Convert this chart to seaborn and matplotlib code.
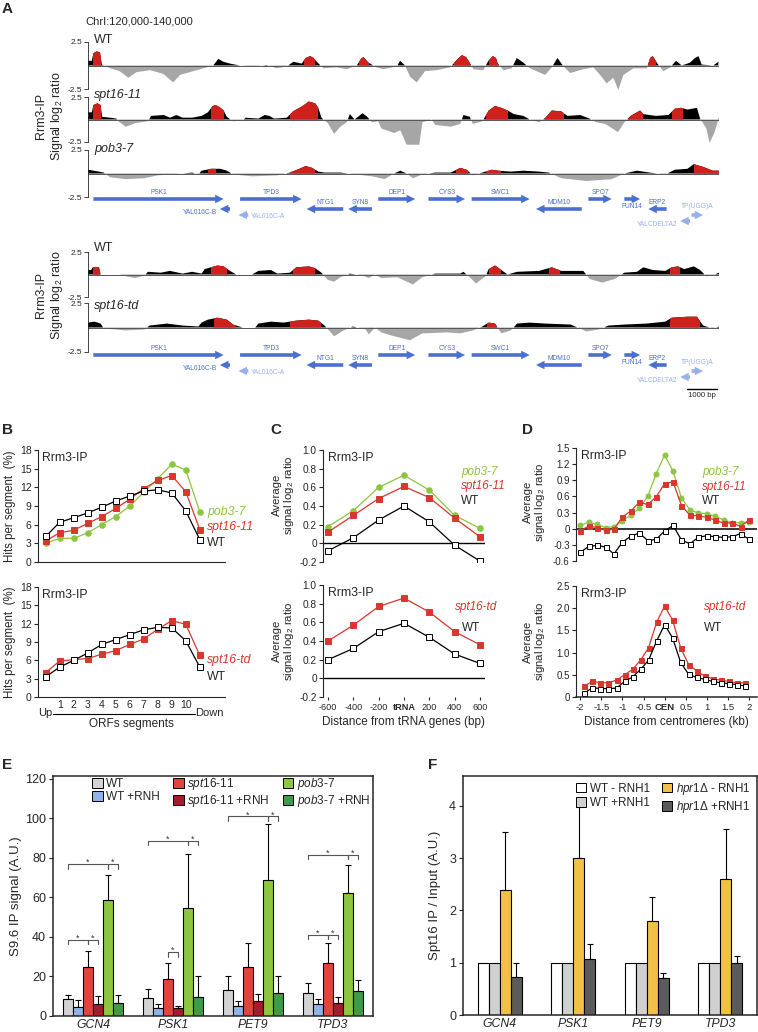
import numpy as np
import pandas as pd
import matplotlib
matplotlib.use('Agg')
import matplotlib.pyplot as plt
import matplotlib.transforms as mtransforms
from matplotlib.patches import Rectangle, Patch, FancyArrow
import seaborn as sns

sns.set_style('ticks')
plt.rcParams['font.family'] = ['Liberation Sans', 'DejaVu Sans']
plt.rcParams['mathtext.fontset'] = 'custom'
plt.rcParams['mathtext.rm'] = 'Liberation Sans'
plt.rcParams['mathtext.it'] = 'Liberation Sans:italic'
plt.rcParams['mathtext.bf'] = 'Liberation Sans:bold'
plt.rcParams['axes.linewidth'] = 0.8

# ---------------- data ----------------
chrom_label = 'ChrI:120,000-140,000'

# genome tracks: (position in kb from 120,000, log2 ratio)
wt_top = [(0.0, 0.5), (0.12, 0.5), (0.17, 1.3), (0.27, 1.5), (0.38, 1.4), (0.44, 0.1), (0.7, -0.3), (1.0, -0.6),
          (1.28, -1.3), (1.54, -0.7), (1.97, -0.5), (2.39, -0.9), (2.7, -1.8), (2.92, -1.0), (3.23, -0.7),
          (3.66, -0.3), (3.97, 0.0), (4.13, 0.7), (4.29, 0.4), (4.5, 0.2), (4.82, 0.0), (5.24, -0.1),
          (5.66, 0.05), (5.98, -0.3), (6.3, -0.1), (6.51, 0.4), (6.77, 0.2), (6.9, 0.8), (7.04, 1.0), (7.15, 0.8),
          (7.25, 0.4), (7.46, -0.3), (7.88, -0.2), (8.2, -0.4), (8.52, 0.0), (8.65, 0.7), (8.73, 0.9), (8.89, 0.3),
          (9.15, -0.2), (9.36, -0.4), (9.79, -0.1), (9.89, 0.5), (10.05, 0.0), (10.21, -1.2), (10.42, -1.8),
          (10.68, -0.6), (11.05, -0.5), (11.48, -0.2), (11.69, 0.6), (11.85, 1.1), (11.98, 0.9), (12.06, 0.5),
          (12.22, -0.4), (12.53, -0.5), (12.69, 0.5), (12.83, 1.0), (12.93, 0.8), (12.99, 0.2), (13.17, -0.5),
          (13.43, -0.3), (13.59, 0.8), (13.8, 0.3), (14.01, -0.3), (14.49, -1.0), (14.7, -0.2), (14.88, 0.8),
          (15.05, 0.0), (15.28, -0.8), (15.7, -0.4), (16.02, -0.2), (16.23, -1.0), (16.44, -1.9), (16.65, -1.3),
          (16.81, -2.6), (16.97, -1.0), (17.29, -0.3), (17.71, -0.3), (17.82, 0.8), (17.9, 1.0), (18.05, 0.2),
          (18.24, -0.6), (18.45, -0.2), (18.64, 0.5), (18.82, 0.0), (19.08, 0.3), (19.24, 0.8), (19.35, 1.0),
          (19.45, 0.1), (19.82, 0.0), (19.98, 0.4)]
wt_top_red = [(0.15, 0.42), (6.85, 7.2), (8.6, 8.9), (11.6, 12.1), (12.7, 12.98), (17.75, 18.0)]

spt16_11 = [(0.0, 0.8), (0.12, 0.8), (0.17, 1.6), (0.3, 1.8), (0.4, 1.6), (0.45, 0.3), (0.7, 0.2), (0.9, 0.1),
            (1.0, -0.3), (1.2, -0.8), (1.5, -0.4), (1.9, -0.2), (2.0, 0.4), (2.4, 0.5), (2.6, 0.2), (2.8, 0.5),
            (3.0, 0.2), (3.3, 0.2), (3.6, 0.4), (3.8, 0.8), (3.95, 1.5), (4.05, 1.6), (4.2, 1.3), (4.3, 1.0),
            (4.4, 0.3), (4.6, -0.2), (4.9, -0.1), (5.0, 0.2), (5.4, 0.1), (5.6, 0.5), (5.75, 0.4), (5.9, 0.1),
            (6.3, 0.2), (6.5, 0.9), (6.8, 1.5), (7.0, 2.0), (7.2, 1.8), (7.3, 1.3), (7.4, 0.2), (7.6, -0.4),
            (7.8, -1.6), (8.0, -0.8), (8.2, -0.3), (8.3, 0.6), (8.45, 0.0), (8.7, 0.7), (8.85, 0.3), (9.0, -0.3),
            (9.2, -0.2), (9.3, -1.0), (9.7, -1.5), (9.9, -1.2), (10.1, -2.8), (10.5, -2.8), (10.6, -0.3),
            (10.9, 0.0), (11.0, -0.6), (11.5, -0.8), (11.8, -0.5), (11.9, 0.5), (12.1, 0.3), (12.2, -0.5),
            (12.5, -0.2), (12.7, 1.0), (12.9, 1.5), (13.1, 1.3), (13.3, 1.0), (13.5, 0.6), (13.8, 0.4),
            (14.0, 0.0), (14.3, -0.3), (14.5, 0.2), (14.7, 1.0), (15.0, 0.9), (15.2, 0.4), (15.6, 0.5),
            (15.9, 0.1), (16.1, -0.3), (16.4, -0.5), (16.8, -1.4), (17.0, -0.3), (17.2, 0.4), (17.5, 1.0),
            (17.6, 0.6), (18.0, 0.4), (18.4, 0.5), (18.6, 1.2), (18.8, 1.3), (19.0, 1.1), (19.3, 1.3),
            (19.4, 0.1), (19.6, -1.0), (19.7, -2.6), (19.85, -1.5), (20.0, 0.2)]
spt16_11_red = [(0.15, 0.42), (3.9, 4.3), (6.4, 7.3), (12.6, 13.3), (14.5, 15.1), (17.1, 17.6), (18.5, 18.85)]

pob3_7 = [(0.0, 0.4), (0.35, 0.2), (0.5, 0.1), (0.7, -0.4), (1.2, -0.6), (1.8, -0.5), (2.2, -0.2), (2.6, -0.1),
          (3.0, 0.0), (3.3, 0.1), (3.5, -0.1), (3.6, 0.3), (3.9, 0.5), (4.2, 0.5), (4.4, 0.3), (4.6, -0.1),
          (5.2, -0.3), (6.0, -0.2), (6.4, 0.1), (6.7, 0.5), (6.9, 0.8), (7.1, 0.6), (7.3, 0.2), (7.5, 0.1),
          (8.0, 0.1), (8.5, -0.1), (9.0, -0.3), (9.4, -0.6), (9.7, 0.0), (9.9, 0.3), (10.1, 0.0), (10.3, -0.5),
          (10.6, -0.1), (11.0, 0.1), (11.5, 0.1), (11.8, 0.6), (12.0, 0.4), (12.2, -0.2), (12.5, 0.1),
          (12.8, 0.4), (13.0, 0.3), (13.4, 0.2), (13.8, 0.3), (14.3, 0.2), (14.6, 0.1), (15.0, -0.5),
          (15.8, -0.8), (16.6, -0.6), (17.0, 0.0), (17.4, 0.3), (17.8, 0.1), (18.3, -0.1), (18.6, 0.4),
          (19.0, 0.5), (19.2, 1.0), (19.5, 0.7), (19.8, 0.3), (20.0, 0.3)]
pob3_7_red = [(3.8, 4.05), (6.4, 7.2), (11.65, 12.05), (12.6, 13.1), (19.2, 20.0)]

wt_bottom = [(0.0, 0.5), (0.1, 0.5), (0.15, 0.8), (0.35, 0.8), (0.4, 0.0), (1.0, 0.0), (1.2, -0.2), (1.5, -0.4),
             (1.8, -0.1), (1.9, 0.3), (2.3, 0.2), (2.6, 0.4), (3.0, 0.1), (3.3, 0.3), (3.6, 0.1), (3.7, 0.6),
             (3.9, 0.8), (4.1, 1.0), (4.3, 0.9), (4.5, 0.4), (4.7, 0.0), (5.2, 0.0), (5.4, 0.4), (5.8, 0.5),
             (6.0, 0.1), (6.4, 0.2), (6.6, 0.8), (7.0, 0.9), (7.2, 0.7), (7.4, 0.2), (7.6, -0.6), (7.8, -0.8),
             (8.0, -0.3), (8.3, 0.1), (8.7, -0.1), (8.9, -0.4), (9.1, 0.0), (9.3, -0.4), (9.8, -0.3),
             (10.3, -1.1), (10.6, -0.3), (11.0, 0.1), (11.8, 0.1), (11.9, 0.3), (12.1, -0.3), (12.3, -1.0),
             (12.6, -0.2), (12.7, 0.6), (12.9, 1.0), (13.1, 0.5), (13.3, 0.0), (13.6, 0.3), (14.3, 0.4),
             (14.7, 0.8), (15.0, 0.4), (15.7, 0.4), (15.9, -0.5), (16.3, -0.9), (16.7, -0.5), (17.0, 0.2),
             (17.4, 0.3), (17.6, 0.8), (17.9, 0.5), (18.3, 0.4), (18.5, 0.8), (18.7, 0.9), (18.9, 0.6),
             (19.2, 0.9), (19.4, 0.5), (19.6, -0.2), (19.8, -0.1), (20.0, 0.2)]
wt_bottom_red = [(0.15, 0.38), (3.9, 4.4), (6.5, 7.2), (12.7, 13.1), (14.6, 14.95), (18.45, 18.75)]

spt16_td = [(0.0, 0.5), (0.2, 0.6), (0.4, 0.4), (0.5, -0.1), (1.2, -0.3), (1.8, -0.2), (1.95, 0.2), (2.5, 0.4),
            (3.0, 0.2), (3.5, 0.1), (3.6, 0.5), (3.8, 0.8), (4.1, 1.0), (4.4, 0.8), (4.6, 0.3), (4.9, 0.0),
            (5.3, 0.0), (5.4, 0.4), (5.8, 0.6), (6.2, 0.5), (6.6, 0.7), (7.0, 0.8), (7.3, 0.7), (7.5, 0.2),
            (7.8, -0.9), (8.1, -0.3), (8.4, 0.1), (8.8, -0.2), (8.9, -0.7), (9.1, 0.0), (9.3, -0.5), (9.6, -0.8),
            (10.2, -1.3), (10.6, -0.6), (11.4, -0.5), (11.8, -0.6), (12.2, -0.3), (12.5, 0.1), (12.7, 0.5),
            (12.9, 0.4), (13.1, -0.6), (13.4, -0.3), (13.6, 0.4), (14.0, 0.5), (14.5, 0.4), (15.3, 0.3),
            (15.8, -0.4), (16.2, -0.2), (16.5, 0.2), (17.0, 0.3), (17.7, 0.4), (18.3, 0.6), (18.5, 1.0),
            (19.0, 1.1), (19.3, 1.1), (19.5, 0.2), (19.8, -0.1), (20.0, 0.1)]
spt16_td_red = [(4.0, 4.7), (6.4, 7.4), (12.65, 13.0), (18.45, 19.4)]

gene_names = ['PSK1', 'TPD3', 'DEP1', 'CYS3', 'SWC1', 'SPO7', 'FUN14', 'YAL016C-B', 'NTG1', 'SYN8',
              'MDM10', 'ERP2', 'YAL016C-A', 'TP(UGG)A', 'YALCDELTA2']
gene_start = [0.17, 4.82, 9.2, 10.79, 12.16, 15.86, 17.0, 4.18, 6.93, 8.25, 14.2, 17.76, 4.77, 19.13, 18.77]
gene_end = [4.3, 6.77, 10.37, 11.95, 14.0, 16.6, 17.5, 4.5, 8.09, 9.0, 15.65, 18.34, 5.08, 19.5, 19.08]
gene_strand = ['+', '+', '+', '+', '+', '+', '+', '-', '-', '-', '-', '-', '-', '+', '-']
gene_row = [0, 0, 0, 0, 0, 0, 0, 1, 1, 1, 1, 1, 2, 2, 3]
gene_light = [False] * 12 + [True] * 3

# panel B
orf_segments = ['Up', '1', '2', '3', '4', '5', '6', '7', '8', '9', '10', 'Down']
b_top_wt = [4.1, 6.4, 7.1, 7.9, 8.8, 9.8, 10.6, 11.4, 11.6, 11.1, 8.2, 3.6]
b_top_spt16_11 = [3.4, 4.7, 5.1, 6.2, 7.3, 8.6, 10.1, 11.8, 13.1, 13.9, 11.3, 5.2]
b_top_pob3_7 = [3.0, 3.8, 3.8, 4.7, 6.0, 7.3, 9.0, 11.2, 13.4, 15.7, 14.8, 8.1]
b_bot_wt = [3.3, 4.9, 6.0, 7.2, 8.6, 9.4, 10.2, 11.0, 11.4, 11.3, 9.2, 4.9]
b_bot_spt16_td = [4.0, 5.9, 6.1, 6.3, 7.0, 7.6, 8.6, 9.5, 11.1, 12.5, 11.9, 6.8]

# panel C
trna_dist = [-600, -400, -200, 0, 200, 400, 600]
trna_labels = ['-600', '-400', '-200', 'tRNA', '200', '400', '600']
c_top_pob3_7 = [0.18, 0.35, 0.6, 0.73, 0.57, 0.3, 0.16]
c_top_spt16_11 = [0.12, 0.3, 0.48, 0.61, 0.49, 0.27, 0.07]
c_top_wt = [-0.08, 0.06, 0.25, 0.4, 0.23, -0.02, -0.19]
c_bot_spt16_td = [0.4, 0.57, 0.77, 0.86, 0.71, 0.5, 0.36]
c_bot_wt = [0.2, 0.32, 0.5, 0.59, 0.44, 0.26, 0.16]

# panel D
cen_dist_top = [-2.0, -1.8, -1.6, -1.4, -1.2, -1.0, -0.8, -0.6, -0.4, -0.2, 0.0,
                0.2, 0.4, 0.6, 0.8, 1.0, 1.2, 1.4, 1.6, 1.8, 2.0]
d_top_pob3_7 = [0.06, 0.12, 0.08, 0.02, 0.04, 0.15, 0.25, 0.38, 0.6, 1.02, 1.37,
                1.07, 0.57, 0.35, 0.29, 0.28, 0.23, 0.16, 0.11, 0.11, 0.13]
d_top_spt16_11 = [-0.04, 0.05, 0.02, -0.03, -0.01, 0.22, 0.33, 0.49, 0.45, 0.59, 0.84,
                  0.87, 0.43, 0.25, 0.24, 0.21, 0.16, 0.1, 0.11, 0.04, 0.16]
d_top_wt = [-0.44, -0.33, -0.31, -0.34, -0.47, -0.25, -0.14, -0.08, -0.22, -0.2, -0.04,
            0.06, -0.21, -0.28, -0.16, -0.13, -0.15, -0.16, -0.15, -0.09, -0.2]
cen_dist_bot = [-1.9, -1.71, -1.52, -1.33, -1.14, -0.95, -0.76, -0.57, -0.38, -0.19, 0.0,
                0.19, 0.38, 0.57, 0.76, 0.95, 1.14, 1.33, 1.52, 1.71, 1.9]
d_bot_spt16_td = [0.25, 0.35, 0.32, 0.32, 0.38, 0.5, 0.62, 0.83, 1.11, 1.68, 2.05,
                  1.73, 1.11, 0.73, 0.59, 0.47, 0.41, 0.38, 0.35, 0.32, 0.32]
d_bot_wt = [0.09, 0.21, 0.19, 0.19, 0.2, 0.35, 0.45, 0.62, 0.83, 1.26, 1.63,
            1.33, 0.78, 0.51, 0.44, 0.4, 0.35, 0.32, 0.3, 0.28, 0.25]
cen_ticks = [-2, -1.5, -1, -0.5, 0, 0.5, 1, 1.5, 2]
cen_labels = ['-2', '-1.5', '-1', '-0.5', 'CEN', '0.5', '1', '1.5', '2']

# panel E
e_genes = ['GCN4', 'PSK1', 'PET9', 'TPD3']
e_conds = ['WT', 'WT +RNH', 'spt16-11', 'spt16-11 +RNH', 'pob3-7', 'pob3-7 +RNH']
e_mean = {'GCN4': [8.6, 4.7, 25.0, 5.9, 58.8, 6.8],
          'PSK1': [9.0, 4.2, 18.6, 4.2, 54.9, 9.6],
          'PET9': [13.2, 5.1, 24.8, 7.6, 69.0, 11.5],
          'TPD3': [11.5, 6.1, 26.7, 6.4, 62.2, 12.7]}
e_err = {'GCN4': [2.0, 3.4, 8.0, 4.2, 12.5, 3.8],
         'PSK1': [4.5, 1.7, 8.1, 1.0, 27.2, 10.7],
         'PET9': [7.1, 2.7, 12.4, 3.6, 28.0, 8.8],
         'TPD3': [5.4, 2.4, 10.1, 3.2, 14.0, 5.6]}
# (gene index, bar a, bar b, bracket height)
e_sig = [(0, 0, 2, 38.5), (0, 2, 3, 38.5), (0, 0, 4, 76.9), (0, 4, 5, 76.9),
         (1, 2, 3, 32.3), (1, 0, 4, 88.7), (1, 4, 5, 88.7),
         (2, 0, 4, 101.1), (2, 4, 5, 101.1),
         (3, 0, 2, 41.1), (3, 2, 3, 41.1), (3, 0, 4, 81.6), (3, 4, 5, 81.6)]

# panel F
f_genes = ['GCN4', 'PSK1', 'PET9', 'TPD3']
f_conds = ['WT - RNH1', 'WT +RNH1', 'hpr1 - RNH1', 'hpr1 +RNH1']
f_mean = {'GCN4': [1.0, 1.0, 2.39, 0.73], 'PSK1': [1.0, 1.0, 3.01, 1.07],
          'PET9': [1.0, 1.0, 1.79, 0.70], 'TPD3': [1.0, 1.0, 2.61, 0.99]}
f_err = {'GCN4': [0, 0, 1.11, 0.27], 'PSK1': [0, 0, 0.96, 0.29],
         'PET9': [0, 0, 0.47, 0.10], 'TPD3': [0, 0, 0.95, 0.13]}

# ---------------- style ----------------
RED = '#d8372d'
GREEN = '#8cc540'
TRACK_RED = '#d0201b'
NEG_GRAY = '#a6a6a6'
GENE_DARK = '#4a6fd1'
GENE_LIGHT = '#97b1e7'
E_COLORS = ['#d3d3d3', '#8db3e8', '#e1443a', '#a51c2c', '#8dc63f', '#3f9a4b']
F_COLORS = ['#ffffff', '#d0d0d0', '#f1c045', '#5b5b5b']

W, H = 758, 1032
fig = plt.figure(figsize=(W / 100, H / 100), dpi=100)


def box(x0, y0, x1, y1):
    return fig.add_axes([x0 / W, 1 - y1 / H, (x1 - x0) / W, (y1 - y0) / H])


def ftext(x, y, s, **kw):
    kw.setdefault('va', 'center')
    kw.setdefault('ha', 'left')
    fig.text(x / W, 1 - y / H, s, **kw)


# ---------------- panel A ----------------
def draw_track(y0, y1, pts, red_spans):
    ax = box(88, y0, 719, y1)
    kb = np.array([p[0] for p in pts])
    v = np.array([p[1] for p in pts])
    pos = ax.fill_between(kb, v, 0, where=v >= 0, interpolate=True, color='black', lw=0)
    neg = ax.fill_between(kb, v, 0, where=v <= 0, interpolate=True, color=NEG_GRAY, lw=0)
    pos.set_clip_on(False)
    neg.set_clip_on(False)
    for a, b in red_spans:
        poly = ax.fill_between(kb, v, 0, where=v >= 0, interpolate=True, color=TRACK_RED, lw=0)
        poly.set_clip_path(Rectangle((a, 0), b - a, 5, transform=ax.transData))
    ax.axhline(0, color='#555555', lw=0.7)
    ax.set_xlim(0, 20)
    ax.set_ylim(-2.5, 2.5)
    ax.set_yticks([-2.5, 2.5])
    ax.set_yticklabels(['-2.5', '2.5'])
    ax.tick_params(axis='y', labelsize=6, length=3, width=0.6, pad=1)
    ax.set_xticks([])
    for s in ['top', 'right', 'bottom']:
        ax.spines[s].set_visible(False)
    ax.spines['left'].set_linewidth(0.6)
    ax.patch.set_alpha(0)
    return ax


ROW_Y = [11, 21, 27, 33]


def draw_genes(y_top, scalebar=False):
    ax = box(88, y_top, 719, y_top + 60)
    ax.set_xlim(0, 20)
    ax.set_ylim(60, 0)
    ax.axis('off')
    for name, s, e, st, row, light in zip(gene_names, gene_start, gene_end, gene_strand, gene_row, gene_light):
        c = GENE_LIGHT if light else GENE_DARK
        y = ROW_Y[row]
        length = e - s
        hl = min(0.27, length)
        x, dx = (s, length) if st == '+' else (e, -length)
        ax.add_patch(FancyArrow(x, y, dx, 0, width=3.6, head_width=8.5, head_length=hl,
                                length_includes_head=True, color=c, lw=0))
        mid = (s + e) / 2
        if name == 'FUN14':
            ax.text(mid, y + 8, name, color=c, fontsize=4.8, ha='center', va='center')
        elif name in ('YAL016C-B', 'YALCDELTA2'):
            ax.text(s - 0.08, y + 3, name, color=c, fontsize=4.8, ha='right', va='center')
        elif name == 'YAL016C-A':
            ax.text(e + 0.08, y + 1, name, color=c, fontsize=4.8, ha='left', va='center')
        elif name == 'TP(UGG)A':
            ax.text(mid, y - 8, name, color=c, fontsize=4.8, ha='center', va='center')
        else:
            ax.text(mid, y - 6.5, name, color=c, fontsize=4.8, ha='center', va='center')
    if scalebar:
        ax.plot([19.0, 19.95], [45, 45], color='black', lw=1.0, clip_on=False)
        ax.text(19.47, 51.5, '1000 bp', fontsize=5.6, ha='center', va='center')


ftext(2, 9, 'A', fontsize=11, fontweight='bold')
ftext(85, 22, chrom_label, fontsize=8)
draw_track(42, 89, wt_top, wt_top_red)
draw_track(97, 142, spt16_11, spt16_11_red)
draw_track(150, 197, pob3_7, pob3_7_red)
draw_genes(188)
ftext(94, 40, 'WT', fontsize=9)
ftext(94, 95, 'spt16-11', fontsize=9, fontstyle='italic')
ftext(94, 149, 'pob3-7', fontsize=9, fontstyle='italic')
ftext(50, 116, 'Rrm3-IP\nSignal log$_2$ ratio', fontsize=9, rotation=90, ha='center',
      multialignment='center')

draw_track(252, 297, wt_bottom, wt_bottom_red)
draw_track(303, 352, spt16_td, spt16_td_red)
draw_genes(344, scalebar=True)
ftext(94, 248, 'WT', fontsize=9)
ftext(94, 306, 'spt16-td', fontsize=9, fontstyle='italic')
ftext(50, 295, 'Rrm3-IP\nSignal log$_2$ ratio', fontsize=9, rotation=90, ha='center',
      multialignment='center')


# ---------------- line panels ----------------
STY = {
    'wt': dict(color='black', marker='s', markerfacecolor='white', markeredgecolor='black'),
    'red': dict(color=RED, marker='s', markerfacecolor=RED, markeredgecolor=RED),
    'green': dict(color=GREEN, marker='o', markerfacecolor=GREEN, markeredgecolor=GREEN),
}


def series(ax, x, y, kind, ms=4):
    sns.lineplot(x=x, y=y, ax=ax, estimator=None, sort=False, lw=0.9, markersize=ms,
                 markeredgewidth=0.7, **STY[kind])


def style_left(ax, labelsize=7.5):
    for s in ['top', 'right']:
        ax.spines[s].set_visible(False)
    ax.tick_params(axis='y', labelsize=labelsize, length=3, width=0.8, pad=1.5)
    ax.patch.set_alpha(0)


def fmt(v):
    return '0' if abs(v) < 1e-9 else f'{v:.1f}'


# panel B
ftext(2, 430, 'B', fontsize=11, fontweight='bold')
bx = list(range(len(orf_segments)))
for y0, y1, data in [(450, 562, [('green', b_top_pob3_7), ('red', b_top_spt16_11), ('wt', b_top_wt)]),
                     (587, 697, [('red', b_bot_spt16_td), ('wt', b_bot_wt)])]:
    ax = box(38, y0, 225, y1)
    for kind, vals in data:
        series(ax, bx, vals, kind, ms=4)
    ax.set_xlim(-0.55, 12.8)
    ax.set_ylim(0, 18)
    ax.set_yticks(range(0, 19, 3))
    style_left(ax, 7.5)
    ax.set_ylabel('Hits per segment  (%)', fontsize=8.3)
    ax.yaxis.set_label_coords(-0.115, 0.5)
    ax.text(0.02, 0.985, 'Rrm3-IP', transform=ax.transAxes, fontsize=8.8, va='top')
    ax.set_xlabel('')
    if y0 == 450:
        ax.set_xticks([])
    else:
        ax.set_xticks(bx[1:-1])
        ax.set_xticklabels(orf_segments[1:-1], fontsize=7.5)
        ax.tick_params(axis='x', length=0, pad=2.5)
        tr = mtransforms.blended_transform_factory(ax.transData, ax.transAxes)
        ax.plot([0.5, 10.65], [-0.15, -0.15], color='black', lw=0.8, transform=tr, clip_on=False)
        ax.text(0.45, -0.15, orf_segments[0], transform=tr, fontsize=8, ha='right', va='center')
        ax.text(10.7, -0.15, orf_segments[-1], transform=tr, fontsize=8, ha='left', va='center')
        ax.text(0.5, -0.245, 'ORFs segments', transform=ax.transAxes, fontsize=8.5, ha='center', va='center')

ftext(207, 512, 'pob3-7', fontsize=8.8, color=GREEN, fontstyle='italic')
ftext(207, 527, 'spt16-11', fontsize=8.8, color=RED, fontstyle='italic')
ftext(207, 543, 'WT', fontsize=8.8)
ftext(207, 660, 'spt16-td', fontsize=8.8, color=RED, fontstyle='italic')
ftext(207, 677, 'WT', fontsize=8.8)

# panel C
ftext(270, 430, 'C', fontsize=11, fontweight='bold')
for y0, y1, data, top in [(450, 562, [('green', c_top_pob3_7), ('red', c_top_spt16_11), ('wt', c_top_wt)], True),
                          (585, 697, [('red', c_bot_spt16_td), ('wt', c_bot_wt)], False)]:
    ax = box(323, y0, 485, y1)
    ax.axhline(0, color='black', lw=1.0)
    for kind, vals in data:
        series(ax, trna_dist, vals, kind, ms=4)
    ax.set_xlim(-640, 640)
    ax.set_ylim(-0.2, 1.0)
    yt = [-0.2, 0, 0.2, 0.4, 0.6, 0.8, 1.0]
    ax.set_yticks(yt)
    ax.set_yticklabels([fmt(v) for v in yt])
    style_left(ax, 7.3)
    ax.spines['bottom'].set_visible(False)
    ax.set_ylabel('Average\nsignal log$_2$ ratio', fontsize=8.2, linespacing=1.0)
    ax.text(0.03, 0.985, 'Rrm3-IP', transform=ax.transAxes, fontsize=8.8, va='top')
    if top:
        ax.yaxis.set_label_coords(-0.165, 0.6)
        ax.set_xticks([])
        ax.set_xlabel('')
    else:
        ax.yaxis.set_label_coords(-0.165, 0.5)
        ax.set_xticks(trna_dist)
        ax.set_xticklabels(trna_labels, fontsize=6.6)
        ax.get_xticklabels()[3].set_fontweight('bold')
        ax.tick_params(axis='x', length=2.5, width=0.8, pad=1.5)
        ax.set_xlabel('Distance from tRNA genes (bp)', fontsize=8.5, labelpad=3)

ftext(461, 472, 'pob3-7', fontsize=8.5, color=GREEN, fontstyle='italic')
ftext(461, 486, 'spt16-11', fontsize=8.5, color=RED, fontstyle='italic')
ftext(461, 501, 'WT', fontsize=8.5)
ftext(455, 607, 'spt16-td', fontsize=8.5, color=RED, fontstyle='italic')
ftext(462, 628, 'WT', fontsize=8.5)

# panel D
ftext(522, 430, 'D', fontsize=11, fontweight='bold')
ax = box(576, 448, 757, 561)
ax.axhline(0, color='black', lw=1.1)
series(ax, cen_dist_top, d_top_pob3_7, 'green', ms=3.6)
series(ax, cen_dist_top, d_top_spt16_11, 'red', ms=3.6)
series(ax, cen_dist_top, d_top_wt, 'wt', ms=3.6)
ax.set_xlim(-2.1, 2.19)
ax.set_ylim(-0.6, 1.5)
yt = [-0.6, -0.3, 0, 0.3, 0.6, 0.9, 1.2, 1.5]
ax.set_yticks(yt)
ax.set_yticklabels([fmt(v) for v in yt])
style_left(ax, 7.0)
ax.spines['bottom'].set_visible(False)
ax.set_xticks([])
ax.set_xlabel('')
ax.set_ylabel('Average\nsignal log$_2$ ratio', fontsize=8.2, linespacing=1.0)
ax.yaxis.set_label_coords(-0.16, 0.52)
ax.text(0.03, 0.985, 'Rrm3-IP', transform=ax.transAxes, fontsize=8.8, va='top')

ax = box(576, 586, 757, 697)
series(ax, cen_dist_bot, d_bot_spt16_td, 'red', ms=3.6)
series(ax, cen_dist_bot, d_bot_wt, 'wt', ms=3.6)
ax.set_xlim(-2.1, 2.19)
ax.set_ylim(0, 2.5)
yt = [0, 0.5, 1.0, 1.5, 2.0, 2.5]
ax.set_yticks(yt)
ax.set_yticklabels([fmt(v) for v in yt])
style_left(ax, 7.0)
ax.spines['bottom'].set_linewidth(1.1)
ax.set_xticks(cen_ticks)
ax.set_xticklabels(cen_labels, fontsize=6.8)
ax.get_xticklabels()[4].set_fontweight('bold')
ax.tick_params(axis='x', length=2.5, width=0.8, pad=1.5)
ax.set_xlabel('Distance from centromeres (kb)', fontsize=8.5, labelpad=3)
ax.set_ylabel('Average\nsignal log$_2$ ratio', fontsize=8.2, linespacing=1.0)
ax.yaxis.set_label_coords(-0.16, 0.5)
ax.text(0.03, 0.985, 'Rrm3-IP', transform=ax.transAxes, fontsize=8.8, va='top')

ftext(702, 472, 'pob3-7', fontsize=8.5, color=GREEN, fontstyle='italic')
ftext(702, 487, 'spt16-11', fontsize=8.5, color=RED, fontstyle='italic')
ftext(702, 501, 'WT', fontsize=8.5)
ftext(704, 607, 'spt16-td', fontsize=8.5, color=RED, fontstyle='italic')
ftext(704, 628, 'WT', fontsize=8.5)


# ---------------- bar panels ----------------
def bar_panel(ax, genes, conds, means, errs, colors, width):
    df = pd.DataFrame({'gene': np.repeat(genes, len(conds)),
                       'cond': conds * len(genes),
                       'val': np.concatenate([means[g] for g in genes])})
    sns.barplot(data=df, x='gene', y='val', hue='cond', order=genes, hue_order=conds,
                palette=colors, width=width, gap=0, saturation=1, edgecolor='black',
                linewidth=0.8, errorbar=None, legend=False, ax=ax)
    n = len(conds)
    for p in ax.patches:
        cx = p.get_x() + p.get_width() / 2
        gi = int(round(cx))
        hi = int(round((cx - gi) / p.get_width() + (n - 1) / 2))
        e = errs[genes[gi]][hi]
        if e > 0:
            ax.errorbar(cx, p.get_height(), yerr=[[0], [e]], color='black', lw=0.8,
                        capsize=2.3, capthick=0.8, zorder=1)
            p.set_zorder(2)
    ax.set_xlim(-0.5, 3.5)
    ax.set_xlabel('')
    for t in ax.get_xticklabels():
        t.set_fontstyle('italic')
        t.set_fontsize(8.8)
    ax.tick_params(axis='x', length=0, pad=2)
    ax.tick_params(axis='y', labelsize=9, length=3, width=0.8, pad=2)
    for s in ax.spines.values():
        s.set_linewidth(1.1)


ftext(2, 765, 'E', fontsize=11, fontweight='bold')
ax = box(53, 776, 373, 1016)
bar_panel(ax, e_genes, e_conds, e_mean, e_err, E_COLORS, 0.75)
ax.set_ylim(0, 121.5)
ax.set_yticks(range(0, 121, 20))
ax.set_ylabel('S9.6 IP signal (A.U.)', fontsize=9.5, labelpad=2)
bw = 0.75 / len(e_conds)
for gi, a, b, yb in e_sig:
    xa = gi + (a - 2.5) * bw
    xb = gi + (b - 2.5) * bw
    ax.plot([xa, xa, xb, xb], [yb - 2.3, yb, yb, yb - 2.3], color='#555555', lw=0.8)
    ax.text((xa + xb) / 2, yb - 0.5, '*', fontsize=6.5, ha='center', va='baseline', color='#333333')
e_labels = ['WT', 'WT +RNH', r'$\it{spt16}$-$\it{11}$', r'$\it{spt16}$-$\it{11}$ +RNH',
            r'$\it{pob3}$-$\it{7}$', r'$\it{pob3}$-$\it{7}$ +RNH']
handles = [Patch(facecolor=c, edgecolor='black', lw=0.7) for c in E_COLORS]
ax.legend(handles, e_labels, ncol=3, loc='upper left', bbox_to_anchor=(0.1, 1.03), frameon=False,
          fontsize=8.5, handlelength=0.9, handleheight=0.9, handletextpad=0.3, columnspacing=1.1,
          labelspacing=0.1, borderaxespad=0.2)

ftext(428, 765, 'F', fontsize=11, fontweight='bold')
ax = box(463, 776, 757, 1015)
bar_panel(ax, f_genes, f_conds, f_mean, f_err, F_COLORS, 0.6)
ax.set_ylim(0, 4.57)
ax.set_yticks(range(0, 5))
ax.set_ylabel('Spt16 IP / Input (A.U.)', fontsize=9.5, labelpad=6)
f_labels = ['WT - RNH1', 'WT +RNH1', r'$\it{hpr1Δ}$ - RNH1', r'$\it{hpr1Δ}$ +RNH1']
handles = [Patch(facecolor=c, edgecolor='black', lw=0.7) for c in F_COLORS]
ax.legend(handles, f_labels, ncol=2, loc='upper right', bbox_to_anchor=(1.0, 1.01), frameon=False,
          fontsize=8.4, handlelength=0.9, handleheight=0.9, handletextpad=0.3, columnspacing=1.0,
          labelspacing=0.2, borderaxespad=0.2)

fig.savefig('out.png', dpi=100)
